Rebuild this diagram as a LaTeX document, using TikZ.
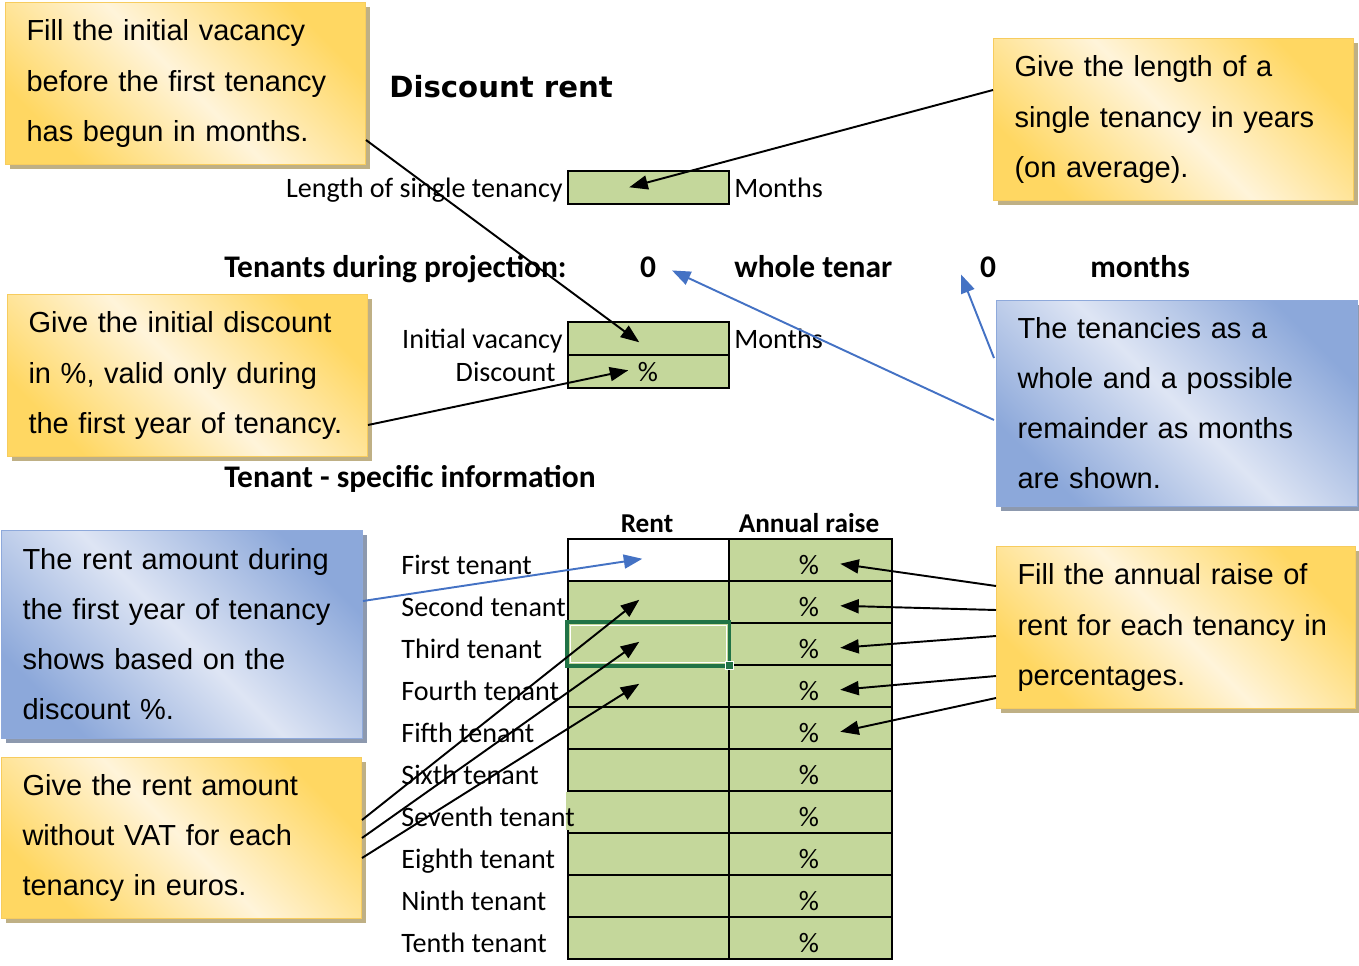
\documentclass[tikz,border=0pt]{standalone}
\usepackage{fontspec}
\setmainfont{Liberation Sans}
\newfontfamily\calfont{Carlito}
\newfontfamily\titlefont{DejaVu Sans}
\usetikzlibrary{arrows.meta, calc, shadows}

\definecolor{yelDeep}{HTML}{FFD762}
\definecolor{yelPale}{HTML}{FFF4DA}
\definecolor{yelEdge}{HTML}{F7CC5E}
\definecolor{yelShade}{HTML}{BFB085}
\definecolor{bluDeep}{HTML}{8CA8DA}
\definecolor{bluPale}{HTML}{DEE5F4}
\definecolor{bluEdge}{HTML}{8EA9DB}
\definecolor{bluShade}{HTML}{8D99AE}
\definecolor{cellGreen}{HTML}{C4D79B}
\definecolor{selGreen}{HTML}{217346}
\definecolor{arrowBlue}{HTML}{4472C4}

\begin{document}
\begin{tikzpicture}[x=0.02cm, y=-0.02cm,
  note/.style={rectangle, anchor=north west, inner xsep=0.42cm, inner ysep=0pt,
    align=left, line width=0.6pt, font=\fontsize{16.5}{28.5}\selectfont},
  yelnote/.style={note, draw=yelEdge, top color=yelDeep, bottom color=yelDeep,
    middle color=yelPale, shading angle=-45,
    drop shadow={shadow xshift=0.09cm, shadow yshift=-0.09cm, fill=yelShade, opacity=1}},
  blunote/.style={note, draw=bluEdge, top color=bluDeep, bottom color=bluDeep,
    middle color=bluPale, shading angle=-45,
    drop shadow={shadow xshift=0.09cm, shadow yshift=-0.09cm, fill=bluShade, opacity=1}},
  lbl/.style={font=\calfont\fontsize{16}{18}\selectfont, inner sep=0pt},
  hdr/.style={font=\calfont\bfseries\fontsize{17.9}{20}\selectfont, inner sep=0pt},
  colhdr/.style={font=\calfont\bfseries\fontsize{15.5}{18}\selectfont, inner sep=0pt},
  titletxt/.style={font=\titlefont\bfseries\fontsize{16.6}{18}\selectfont, inner sep=0pt},
  cell/.style={draw=black, line width=0.9pt, fill=cellGreen, anchor=north west,
    minimum width=3.22cm, minimum height=0.84cm, inner sep=0pt},
  pointer/.style={-{Triangle[length=0.37cm, width=0.28cm]}, line width=1.1pt, black},
  bluepointer/.style={pointer, arrowBlue},
]
  \useasboundingbox (0,0) rectangle (1359,966);

  % --- callouts ---
  \node[yelnote, minimum width=7.2cm, minimum height=3.24cm, text width=6.36cm] (vacNote) at (5,2)
    {Fill the initial vacancy\\before the first tenancy\\has begun in months.};
  \node[yelnote, minimum width=7.2cm, minimum height=3.24cm, text width=6.36cm] (lenNote) at (993,38)
    {Give the length of a\\single tenancy in years\\(on average).};
  \node[yelnote, minimum width=7.2cm, minimum height=3.24cm, text width=6.36cm] (discNote) at (7,294)
    {Give the initial discount\\in \%, valid only during\\the first year of tenancy.};
  \node[blunote, minimum width=7.22cm, minimum height=4.12cm, text width=6.38cm] (wholeNote) at (996,300)
    {The tenancies as a\\whole and a possible\\remainder as months\\are shown.};
  \node[blunote, minimum width=7.22cm, minimum height=4.16cm, text width=6.38cm] (firstNote) at (1,530)
    {The rent amount during\\the first year of tenancy\\shows based on the\\discount \%.};
  \node[yelnote, minimum width=7.2cm, minimum height=3.22cm, text width=6.36cm] (rentNote) at (1,757)
    {Give the rent amount\\without VAT for each\\tenancy in euros.};
  \node[yelnote, minimum width=7.18cm, minimum height=3.24cm, text width=6.34cm] (raiseNote) at (996,546)
    {Fill the annual raise of\\rent for each tenancy in\\percentages.};

  % --- sheet header part ---
  \node[titletxt, anchor=mid west] (title) at (389,93) {Discount rent};

  \node[lbl, anchor=mid east] (lenLbl) at (563,193) {Length of single tenancy};
  \node[cell, minimum height=0.66cm] (lenCell) at (567,170) {};
  \node[lbl, anchor=mid west] (lenUnit) at (734,193) {Months};

  \node[hdr, anchor=mid west] (projLbl) at (224,273) {Tenants during projection:};
  \node[hdr, anchor=mid] (wholeVal) at (648,273) {0};
  \node[hdr, anchor=mid west] (wholeLbl) at (734,273) {whole tenar};
  \node[hdr, anchor=mid] (restVal) at (988,273) {0};
  \node[hdr, anchor=mid west] (restLbl) at (1090,273) {months};

  \node[lbl, anchor=mid east] (vacLbl) at (563,344) {Initial vacancy};
  \node[cell, minimum height=0.66cm] (vacCell) at (567,321) {};
  \node[lbl, anchor=mid west] (vacUnit) at (734,344) {Months};
  \node[lbl, anchor=mid east] (discLbl) at (556,377) {Discount};
  \node[cell, minimum height=0.66cm] (discCell) at (567,354) {};
  \node[lbl, anchor=mid] (discPct) at (648,377) {\%};

  \node[hdr, anchor=mid west] (specLbl) at (224,483) {Tenant - specific information};
  \node[colhdr, anchor=mid] (rentHdr) at (647,528) {Rent};
  \node[colhdr, anchor=mid] (raiseHdr) at (809,528) {Annual raise};

  % --- tenant table ---
  \node[cell, fill=white] (rent1) at (567,538) {};
  \foreach \i in {2,...,10}
    \node[cell] (rent\i) at (567,{538+42*(\i-1)}) {};
  \foreach \i in {1,...,10} {
    \node[cell, minimum width=3.26cm] (raise\i) at (728,{538+42*(\i-1)}) {};
    \node[lbl, anchor=mid] (pct\i) at (809,{570+42*(\i-1)}) {\%};
  }
  % seventh label runs over the cell edge
  \fill[cellGreen] (565.5,792) rectangle (569,830);
  \foreach \i/\name in {1/First,2/Second,3/Third,4/Fourth,5/Fifth,6/Sixth,7/Seventh,8/Eighth,9/Ninth,10/Tenth}
    \node[lbl, anchor=mid west] (row\i) at (401,{570+42*(\i-1)}) {\name\ tenant};

  % selected cell
  \draw[selGreen, line width=2.2pt] (rent3.north west) rectangle (rent3.south east);
  \draw[white, line width=0.6pt] ($(rent3.north west)+(3.5,3.5)$) rectangle ($(rent3.south east)+(-3.5,-3.5)$);
  \filldraw[fill=selGreen, draw=white, line width=0.5pt] ($(rent3.south east)+(-4,-4)$) rectangle ($(rent3.south east)+(4,4)$);

  % --- pointers ---
  \draw[pointer] ($(vacNote.north east)+(0,138)$) -- ($(vacCell.center)+(-9,4)$);
  \draw[pointer] ($(lenNote.north west)+(0,52)$) -- ($(lenCell.center)+(-19,0)$);
  \draw[pointer] ($(discNote.north east)+(0,131)$) -- ($(discCell.center)+(-20,-1)$);
  \draw[bluepointer] ($(wholeNote.north west)+(-2,120)$) -- ($(wholeVal.center)+(24,3)$);
  \draw[bluepointer] ($(wholeNote.north west)+(-2,58)$) -- ($(restVal.center)+(-27,7)$);
  \draw[bluepointer] ($(firstNote.north east)+(0,71)$) -- ($(rent1.center)+(-6,-1)$);
  \foreach \dy/\i in {63/2, 81/3, 101/4}
    \draw[pointer] ($(rentNote.north east)+(0,\dy)$) -- ($(rent\i.center)+(-9,-2)$);
  \foreach \dy/\i in {40/1, 64/2, 90/3, 130/4, 152/5}
    \draw[pointer] ($(raiseNote.north west)+(0,\dy)$) -- ($(raise\i.center)+(30,4)$);
\end{tikzpicture}
\end{document}
